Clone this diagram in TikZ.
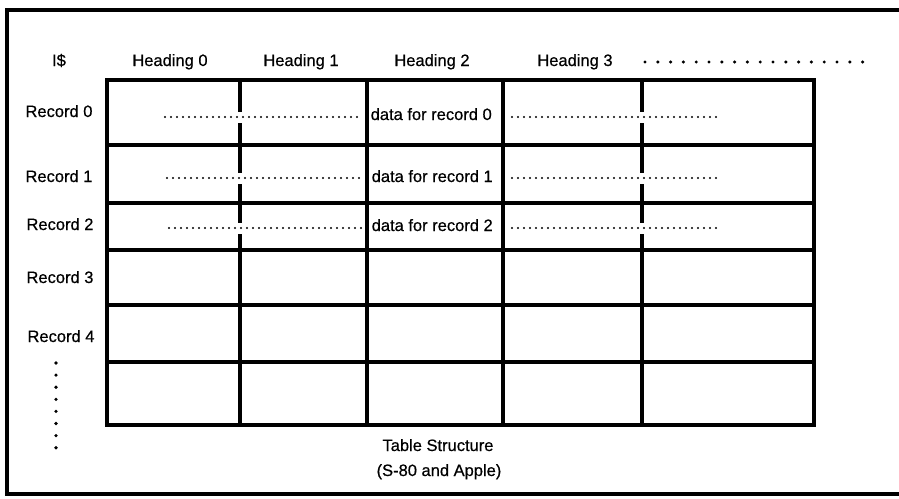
\documentclass[tikz,border=0pt]{standalone}
\usepackage{fontspec}
\setmainfont[FakeBold=0.5]{Liberation Sans}
\begin{document}
\begin{tikzpicture}[x=1pt,y=-1pt,
  lbl/.style={font=\fontsize{16.5}{18}\selectfont, inner sep=0pt, anchor=base},
  datalbl/.style={font=\fontsize{16.5}{18}\selectfont, inner sep=1.5pt, anchor=base west, fill=white},
  frameline/.style={line width=4pt, line cap=rect},
  rowline/.style={line width=4.5pt, line cap=rect},
  colline/.style={line width=3.5pt},
  gapline/.style={white, line width=11pt},
  dotline/.style={line width=2.2pt, line cap=round, dash pattern=on 0pt off 6pt},
  bigdot/.style={fill=black}]
\useasboundingbox (0,0) rectangle (899,498);
\fill[white] (0,0) rectangle (899,498);
% outer frame
\draw[frameline] (899,10) -- (7,10) -- (7,494) -- (899,494);
% table grid
\foreach \x in {240,367,503,642} \draw[colline] (\x,80) -- (\x,425);
\foreach \y in {145,203,250,305,362} \draw[rowline] (107,\y) -- (814,\y);
\draw[rowline] (107,80) rectangle (814,425);
% headings
\node[lbl] (h) at (59,66) {I\$};
\node[lbl] (h0) at (170,66) {Heading 0};
\node[lbl] (h1) at (301,66) {Heading 1};
\node[lbl] (h2) at (432,66) {Heading 2};
\node[lbl] (h3) at (575,66) {Heading 3};
\foreach \i in {0,...,17} \fill[bigdot] (645+12.8*\i,62) circle (1.7);
% row labels
\node[lbl] (r0) at (59,117) {Record 0};
\node[lbl] (r1) at (59,182) {Record 1};
\node[lbl] (r2) at (60,230) {Record 2};
\node[lbl] (r3) at (60,283) {Record 3};
\node[lbl] (r4) at (61,342) {Record 4};
\foreach \i in {0,...,7} \fill[bigdot] (56,363+12.1*\i) circle (1.8);
% data rows
\foreach \y/\xa in {117/165,178/167,228/169} {
  \draw[gapline] (\xa,\y) -- (362,\y);
  \draw[gapline] (512,\y) -- (716,\y);
  \draw[dotline] (\xa,\y) -- (362,\y);
  \draw[dotline] (512,\y) -- (716,\y);
}
\node[datalbl] (d0) at (369,120) {data for record 0};
\node[datalbl] (d1) at (370,182) {data for record 1};
\node[datalbl] (d2) at (370,231) {data for record 2};
% caption
\node[lbl] (c1) at (438,451) {Table Structure};
\node[lbl] (c2) at (439,476) {(S-80 and Apple)};
\end{tikzpicture}
\end{document}
